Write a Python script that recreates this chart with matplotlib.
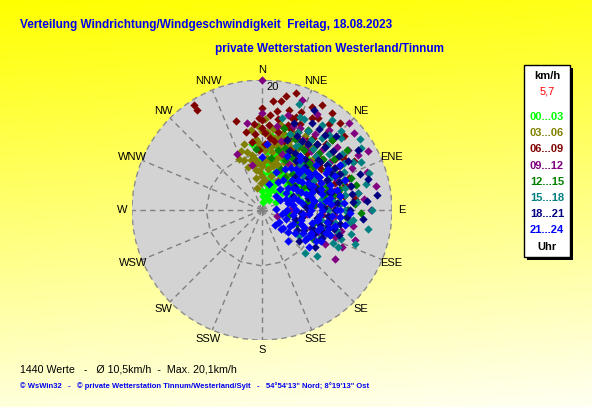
import numpy as np
import matplotlib
matplotlib.use('Agg')
import matplotlib.pyplot as plt
from matplotlib.patches import Rectangle, Polygon, Circle

plt.rcParams['font.family'] = ['Liberation Sans', 'DejaVu Sans']

# ---------------- data ----------------
title = "Verteilung Windrichtung/Windgeschwindigkeit  Freitag, 18.08.2023"
subtitle = "private Wetterstation Westerland/Tinnum"
direction_labels = ['N', 'NNE', 'NE', 'ENE', 'E', 'ESE', 'SE', 'SSE',
                    'S', 'SSW', 'SW', 'WSW', 'W', 'WNW', 'NW', 'NNW']
r_max = 20
ring_value = 8.6
unit_label = 'km/h'
legend_value = '5,7'
hour_labels = ['00...03', '03...06', '06...09', '09...12',
               '12...15', '15...18', '18...21', '21...24']
hour_colors = ['#00ff00', '#808000', '#800000', '#800080',
               '#008000', '#008080', '#000080', '#0000ff']
stats_text = "1440 Werte   -   \u00d8 10,5km/h  -  Max. 20,1km/h"
footer_text = ("\u00a9 WsWin32   -   \u00a9 private Wetterstation Tinnum/Westerland/Sylt   -   "
               "54\u00b054'13\" Nord; 8\u00b019'13\" Ost")

# (direction in degrees, speed in km/h) per 3-hour block
h00_03 = [(351,10.3),(4,1.2),(10,2.0),(20,2.5),(15,3.2),(8,4.0),(25,4.2),(12,5.0),(30,5.3),(18,6.0),
          (6,6.8),(35,6.5),(22,7.0),(10,7.6),(28,8.0),(15,8.6),(40,7.8),(5,9.0),(20,9.5),(33,9.2),
          (45,5.5),(50,4.0),(38,3.5),(55,6.8),(60,5.0),(48,8.5),(25,10.5),(12,10.0),(2,5.5),(0,3.0),
          (356,7.5),(30,11.2),(42,10.5),(65,7.5),(70,4.5),(18,12.0),(8,11.5),(52,9.5),(75,6.0),(35,1.8),
          (62,2.5),(27,6.0),(17,4.6),(44,6.2),(11,8.3),(5,2.2),(15,2.0),(25,3.4),(30,6.6),(20,4.6),
          (10,5.8),(22,8.4),(36,7.8),(40,6.0),(14,10.8),(6,9.8),(2,7.6),(28,9.4)]
h03_06 = [(347,3.5),(348,7.8),(345,9.2),(350,8.6),(355,9.5),(355,11.0),(0,12.2),(5,10.2),(5,8.0),(0,6.8),
          (355,6.0),(350,5.0),(10,9.0),(10,11.2),(15,12.3),(20,10.2),(15,8.2),(8,6.3),(20,7.4),(25,9.0),
          (30,11.0),(30,8.2),(35,10.2),(25,12.5),(18,13.2),(12,13.6),(2,14.0),(40,9.2),(45,11.0),(35,6.4),
          (28,5.2),(15,5.4),(5,4.6),(358,4.2),(342,7.0),(340,9.6),(352,12.4),(8,12.6),(22,11.6),(38,12.2),
          (50,10.0),(12,10.2),(3,9.2),(27,10.6),(17,9.6),(7,7.9),(30,13.2),(20,14.2),(45,8.2),(350,7.0),
          (336,8.6),(357,13.0),(14,7.0),(24,6.6),(33,9.6),(352,8.0),(357,10.5),(2,7.5),(8,9.8),(13,11.5),
          (18,8.8),(23,10.8),(28,9.6),(33,11.8),(10,13.0),(4,12.0),(345,10.5),(340,8.2),(355,7.2),(0,9.8),
          (6,11.4),(16,10.8),(22,12.8),(26,8.0),(36,8.8),(42,10.4),(48,12.0),(12,7.4),(0,5.2),(352,6.2)]
h06_09 = [(327,19.2),(327,18.3),(344,14.3),(355,13.3),(0,15.7),(0,12.6),(358,14.2),(5,13.2),(8.6,15.4),(10,17.0),
          (18,14.9),(20,13.2),(28.5,16.1),(30,14.0),(36,18.4),(31,16.6),(40,13.2),(45,15.2),(56,15.0),(73,13.3),
          (83,14.4),(18,11.2),(12,12.2),(28,12.2),(38,11.2),(50,12.0),(55,13.8),(60,12.8),(48,17.0),(42,18.0),
          (30,18.6),(22,16.2),(15,16.0),(6,11.2),(3,10.2),(352,10.6),(357,9.2),(348,12.2),(25,10.2),(35,9.4),
          (45,10.2),(65,11.0),(70,14.2),(77,12.0),(88,10.2),(95,9.2),(62,16.0),(33,12.6),(17,13.6),(12,18.0),
          (44,14.2),(52,11.2),(66,9.0),(80,11.0),(6,16.8),(24,14.4),(2,11.8),(5,14.6),(10,14.2),(15,13.0),
          (20,15.2),(25,13.2),(30,12.2),(35,13.6),(40,15.5),(45,12.0),(50,14.0),(55,11.0),(60,10.0),(65,13.0),
          (70,12.0),(75,10.0),(80,12.8),(85,12.0),(20,11.8),(10,10.8),(0,13.8),(355,11.8),(38,16.8),(26,17.6),
          (16,18.8),(58,14.8)]
h09_12 = [(0,20.0),(0,15.0),(336,9.4),(347.5,7.1),(50,18.4),(61,18.7),(84,15.8),(124,13.5),(116,8.4),(20,18.0),
          (30,17.0),(40,16.0),(55,16.2),(65,15.2),(70,17.2),(75,14.0),(80,12.2),(90,13.0),(95,11.2),(100,14.2),
          (105,10.2),(110,12.0),(45,13.2),(35,14.2),(25,12.2),(15,15.2),(10,13.2),(60,10.2),(70,9.2),(85,8.2),
          (95,7.0),(100,6.2),(50,7.2),(40,9.0),(30,8.2),(20,9.2),(90,16.8),(78,18.0),(45,19.0),(112,9.4),
          (118,11.0),(350,13.6),(110,2.5),(108,15.0),(68,12.5),(88,4.5),(15,11.0),(25,14.0),(35,11.5),(45,10.5),
          (55,12.8),(60,13.6),(65,10.0),(75,11.4),(80,15.0),(85,11.0),(90,9.6),(100,11.0),(105,12.6),(110,8.0),
          (115,13.6),(50,15.0),(40,11.8),(30,12.5),(20,13.8),(60,17.0)]
h12_15 = [(86,14.3),(112,5.8),(354.4,9.4),(20,10.2),(25,12.0),(30,9.2),(35,11.2),(40,13.0),(45,10.2),(50,12.2),
          (55,9.2),(60,14.0),(65,11.2),(70,13.2),(75,10.2),(80,12.0),(85,9.2),(90,11.2),(95,13.0),(100,10.2),
          (40,7.2),(50,6.2),(60,7.2),(70,8.2),(80,7.0),(30,14.2),(45,15.2),(55,16.0),(75,15.0),(65,6.2),
          (35,6.2),(10,8.2),(105,8.2),(110,11.0),(92,15.2),(48,8.4),(58,11.6),(68,9.6),(78,11.2),(15,13.0),
          (25,7.0),(100,4.2),(120,9.0),(15,9.5),(20,12.4),(25,8.5),(30,11.4),(35,13.2),(40,9.6),(45,12.4),
          (50,10.4),(55,13.6),(60,9.0),(65,12.8),(70,10.6),(75,12.4),(80,9.8),(85,11.8),(90,13.2),(95,10.6),
          (100,12.2),(45,6.0),(62,8.0),(84,8.0),(105,10.4),(70,14.6)]
h15_18 = [(19,17.3),(22,15.5),(96,14.1),(100,16.5),(106,12.0),(135,9.4),(54,18.6),(47.6,16.4),(71,17.4),(64,16.9),
          (30,14.0),(35,16.0),(40,12.2),(45,14.2),(50,11.2),(55,15.0),(60,12.2),(65,14.0),(70,11.2),(75,13.2),
          (80,15.0),(85,12.2),(90,10.2),(95,12.0),(100,9.2),(105,14.2),(110,11.2),(115,10.0),(120,8.2),(125,7.0),
          (45,17.2),(58,18.0),(76,16.5),(40,9.2),(50,8.2),(60,9.2),(70,8.2),(80,9.2),(88,7.2),(28,11.2),
          (35,10.2),(25,13.2),(90,17.0),(130,11.0),(110,15.2),(12,14.5),(42,15.5),(116,13.0),(30,12.0),(35,13.2),
          (40,14.4),(45,11.8),(50,13.4),(55,12.4),(60,14.6),(65,11.6),(70,13.4),(75,11.0),(80,13.0),(85,14.6),
          (90,12.8),(95,10.4),(100,11.4),(105,10.4),(110,13.0),(115,12.0),(20,12.5),(25,15.4),(38,17.6),(62,15.8),
          (82,10.8),(98,13.6)]
h18_21 = [(27.5,17.3),(82.6,17.8),(104,10.5),(117,10.0),(73.7,17.0),(115,10.2),(35,15.2),(40,13.2),(45,16.0),(50,14.2),
          (55,12.2),(60,15.2),(65,13.2),(70,16.0),(75,14.2),(80,12.2),(85,14.0),(90,11.2),(95,13.2),(100,12.2),
          (105,9.2),(110,8.2),(115,7.2),(120,6.2),(40,10.2),(50,9.2),(60,10.2),(70,9.2),(80,8.2),(90,7.2),
          (100,6.2),(30,12.2),(35,9.2),(45,7.2),(55,6.2),(65,5.2),(125,10.0),(85,16.2),(95,15.6),(58,17.5),
          (20,14.2),(30,15.5),(48,11.5),(62,12.0),(76,11.0),(88,9.5),(98,8.5),(108,12.5),(130,7.5),(25,10.0),
          (30,10.2),(35,12.4),(40,15.0),(45,13.6),(50,11.6),(55,14.4),(60,13.0),(65,11.0),(70,12.6),(75,10.6),
          (80,14.0),(85,11.6),(90,13.6),(95,10.2),(100,10.4),(105,11.4),(110,10.0),(45,9.4),(55,8.6),(65,8.2),
          (75,7.4),(85,6.6),(95,6.0),(105,5.2),(115,8.8),(20,11.4),(25,12.6)]
h21_24 = [(122,8.2),(125,3.2),(130,4.3),(4,10.2),(0,8.2),(139,3.0),(37,9.7),(60,13.9),(90,12.0),(107,9.3),
          (70,4.6),(62,8.3),(40,4.2),(50,5.2),(60,6.2),(70,7.2),(80,8.2),(90,9.2),(100,10.2),(110,9.2),
          (120,7.2),(130,5.2),(135,4.2),(140,6.2),(30,7.2),(40,8.2),(50,9.2),(60,10.2),(70,11.2),(80,12.2),
          (90,11.6),(95,6.4),(35,10.2),(25,9.2),(20,6.2),(15,4.2),(60,3.2),(75,4.2),(90,5.2),(105,6.2),
          (115,5.2),(100,3.2),(85,2.2),(55,7.6),(65,8.6),(75,9.6),(85,10.6),(95,7.2),(110,11.2),(118,10.2),
          (128,9.2),(100,13.0),(110,10.4),(100,8.8),(70,13.6),(95,3.6),(125,6.2),(35,5.6),(45,6.6),(80,6.2),
          (70,5.2),(55,4.6),(85,7.6),(95,9.0),(105,8.0),(112,7.0),(65,10.0),(75,12.0),(50,10.8),(82,10.0),
          (92,13.5),(58,12.0),(102,11.5),(118,8.5),(45,3.0),(30,5.0),(35,7.8),(75,5.8),(45,9.0),(50,7.2),
          (55,10.0),(60,8.2),(65,6.6),(70,9.6),(75,7.8),(80,10.6),(85,9.0),(90,7.6),(95,10.8),(100,8.6),
          (105,10.6),(110,6.4),(115,8.4),(120,9.6),(125,8.0),(65,12.4),(75,11.0),(85,12.6),(95,12.0),(55,5.8),
          (65,4.0),(80,4.8),(90,3.8),(100,4.8),(110,4.0),(120,5.0),(45,8.0),(55,9.0),(60,11.4),(70,8.2)]
groups = [h00_03, h03_06, h06_09, h09_12, h12_15, h15_18, h18_21, h21_24]

# ---------------- figure ----------------
W, H = 592, 407
fig = plt.figure(figsize=(W / 100, H / 100), dpi=100)

def fx(x):
    return x / W

def fy(y):
    return 1 - y / H

# background gradient
bg = fig.add_axes([0, 0, 1, 1], zorder=0)
yy = np.linspace(0, 1, 200)[:, None]
xx = np.linspace(0, 1, 200)[None, :]
t = np.clip(0.9 * yy + 0.1 * xx, 0, 1)
img = np.zeros((200, 200, 3))
img[..., 0] = 1.0
img[..., 1] = 1.0
img[..., 2] = 0.95 * t
bg.imshow(img, extent=[0, 1, 0, 1], aspect='auto', origin='upper')
bg.set_axis_off()

# polar disc geometry
cx, cy, R = 262, 210, 130
rect = [fx(cx - R), fy(cy + R), 2 * R / W, 2 * R / H]

gax = fig.add_axes(rect, zorder=1)
gax.set_xlim(-r_max, r_max)
gax.set_ylim(-r_max, r_max)
gax.set_axis_off()
gax.add_patch(Circle((0, 0), r_max, facecolor='#d3d3d3', edgecolor='#8c8c8c',
                     linestyle=(0, (4, 3)), linewidth=1.0))
angles = np.deg2rad(np.arange(16) * 22.5)
for a in angles:
    gax.plot([0, r_max * np.sin(a)], [0, r_max * np.cos(a)], color='#808080',
             linestyle=(0, (4, 3)), linewidth=1.0)
ring = np.column_stack([ring_value * np.sin(angles), ring_value * np.cos(angles)])
gax.add_patch(Polygon(ring, closed=True, fill=False, edgecolor='#808080',
                      linestyle=(0, (4, 3)), linewidth=1.0))

pax = fig.add_axes(rect, projection='polar', zorder=2)
pax.patch.set_alpha(0)
pax.set_theta_zero_location('N')
pax.set_theta_direction(-1)
pax.set_ylim(0, r_max)
pax.grid(False)
pax.set_xticks([])
pax.set_yticks([])
pax.spines['polar'].set_visible(False)

for pts, col in zip(groups, hour_colors):
    d = np.deg2rad([p[0] for p in pts])
    s = [p[1] for p in pts]
    pax.scatter(d, s, marker='D', s=18, color=col, linewidths=0, clip_on=False)

for i, lab in enumerate(direction_labels):
    pax.text(np.deg2rad(i * 22.5), r_max * 1.075, lab, ha='center', va='center',
             fontsize=8, color='black')
gax.text(0.7, 19.0, str(r_max), ha='left', va='center', fontsize=8, color='black')

# titles
fig.text(fx(20), fy(25), title, ha='left', va='center', fontsize=8.5, fontweight='bold',
         color='#0000ee')
fig.text(fx(215), fy(49), subtitle, ha='left', va='center', fontsize=8.5, fontweight='bold',
         color='#0000ee')

# legend box
lx0, ly0, lx1, ly1 = 524, 65, 570, 257
fig.add_artist(Rectangle((fx(lx0 + 3), fy(ly1 + 3)), (lx1 - lx0) / W, (ly1 - ly0) / H,
                         transform=fig.transFigure, facecolor='black', edgecolor='none', zorder=3))
fig.add_artist(Rectangle((fx(lx0), fy(ly1)), (lx1 - lx0) / W, (ly1 - ly0) / H,
                         transform=fig.transFigure, facecolor='white', edgecolor='black',
                         linewidth=1.0, zorder=4))
lxc = (lx0 + lx1) / 2
fig.text(fx(lxc), fy(76), unit_label, ha='center', va='center', fontsize=8,
         fontweight='bold', color='black', zorder=5)
fig.text(fx(lxc), fy(91), legend_value, ha='center', va='center', fontsize=8,
         color='#ff0000', zorder=5)
for i, (lab, col) in enumerate(zip(hour_labels, hour_colors)):
    fig.text(fx(lxc), fy(117 + i * 16.2), lab, ha='center', va='center', fontsize=8,
             fontweight='bold', color=col, zorder=5)
fig.text(fx(lxc), fy(247), 'Uhr', ha='center', va='center', fontsize=8,
         fontweight='bold', color='black', zorder=5)

# bottom texts
fig.text(fx(20), fy(369), stats_text, ha='left', va='center', fontsize=7.7, color='black')
fig.text(fx(20), fy(386), footer_text, ha='left', va='center', fontsize=5.5,
         fontweight='bold', color='#0000ee')

fig.savefig('out.png', dpi=100)
